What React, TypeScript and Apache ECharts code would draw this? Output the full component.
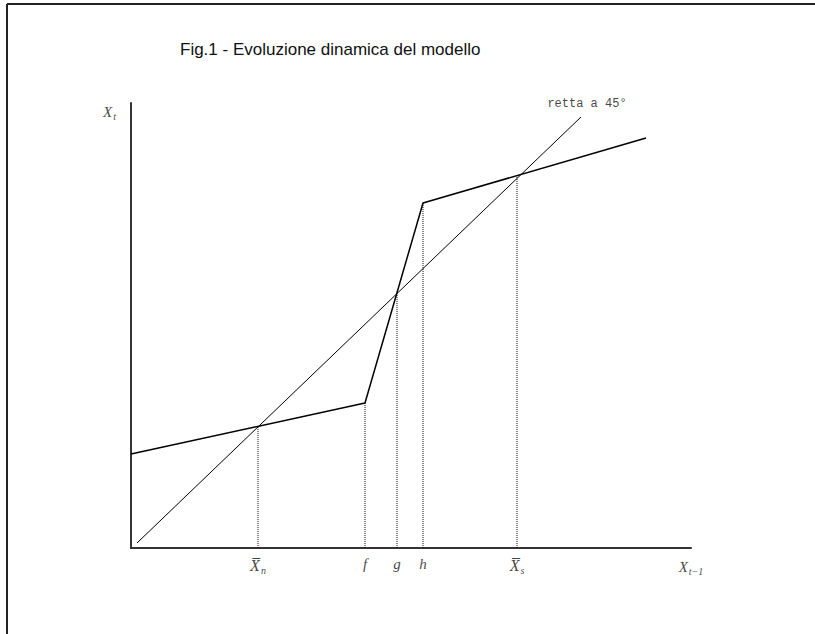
import React, { useEffect, useRef } from "react";
import * as echarts from "echarts";

const X_MAX = 560;
const Y_MAX = 445;
const line45: number[][] = [[6, 5], [450, 431]];
const curve: number[][] = [[0, 94], [234, 145], [292, 345], [515, 410]];
const dropX = [127, 234, 266, 292, 386];
const dropY = [122, 145, 255, 345, 371];
const tickText = ["{o|X\u0305}{s|n}", "{i|f}", "{i|g}", "{i|h}", "{o|X\u0305}{s|s}"];
const titleText = "Fig.1 - Evoluzione dinamica del modello";
const lineLabel = "retta a 45°";
const yName = "{i|X}{s|t}";
const xName = "{i|X}{s|t\u22121}";

export default function App() {
  const ref = useRef<HTMLDivElement>(null);
  useEffect(() => {
    const chart = echarts.init(ref.current!, null, { renderer: "svg" });
    const serif = "'Liberation Serif', 'Times New Roman', serif";
    const rich = {
      i: { fontFamily: serif, fontStyle: "italic", fontSize: 15, color: "#111" },
      o: { fontFamily: serif, fontStyle: "italic", fontSize: 16, color: "#111" },
      s: { fontFamily: serif, fontStyle: "italic", fontSize: 10, color: "#111", padding: [9, 0, 0, 1] },
    };
    const dropSeries = dropX.map((x, k) => ({
      type: "line",
      name: "drop" + k,
      data: [[x, 0], [x, dropY[k]]],
      symbol: "none",
      silent: true,
      lineStyle: { color: "#111", width: 1, type: [1, 1] },
      z: 1,
    }));
    const labelData: any[] = dropX.map((x, k) => ({
      value: [x, 0],
      label: { show: true, position: "bottom", distance: 8, formatter: tickText[k], rich },
    }));
    labelData.push({
      value: [X_MAX, 0],
      label: { show: true, position: "bottom", distance: 9, formatter: xName, rich },
    });
    labelData.push({
      value: [0, 436],
      label: { show: true, position: "left", distance: 15, formatter: yName, rich },
    });
    labelData.push({
      value: [456, 444],
      label: {
        show: true,
        position: "inside",
        formatter: lineLabel,
        fontFamily: "'Liberation Mono', 'Courier New', monospace",
        fontSize: 12,
        color: "#111",
      },
    });
    chart.setOption({
      animation: false,
      backgroundColor: "#fff",
      title: {
        text: titleText,
        left: 175,
        top: 36,
        textStyle: {
          fontFamily: "'Liberation Sans', Arial, sans-serif",
          fontSize: 17,
          fontWeight: "normal",
          color: "#111",
        },
      },
      grid: { left: 131, top: 103, width: X_MAX, height: Y_MAX },
      xAxis: {
        type: "value",
        min: 0,
        max: X_MAX,
        axisLine: { show: true, lineStyle: { color: "#333", width: 2 } },
        axisTick: { show: false },
        axisLabel: { show: false },
        splitLine: { show: false },
      },
      yAxis: {
        type: "value",
        min: 0,
        max: Y_MAX,
        axisLine: { show: true, lineStyle: { color: "#333", width: 2 } },
        axisTick: { show: false },
        axisLabel: { show: false },
        splitLine: { show: false },
      },
      graphic: [
        { type: "line", shape: { x1: 7, y1: 4, x2: 815, y2: 4 }, style: { stroke: "#222", lineWidth: 2 } },
        { type: "line", shape: { x1: 7, y1: 4, x2: 7, y2: 634 }, style: { stroke: "#222", lineWidth: 2 } },
      ],
      series: [
        {
          type: "line",
          name: "retta a 45°",
          data: line45,
          symbol: "none",
          silent: true,
          lineStyle: { color: "#000", width: 1 },
          z: 3,
        },
        {
          type: "line",
          name: "curve",
          data: curve,
          symbol: "none",
          silent: true,
          lineStyle: { color: "#000", width: 1.5 },
          z: 4,
        },
        ...dropSeries,
        {
          type: "scatter",
          name: "labels",
          data: labelData,
          symbolSize: 0,
          silent: true,
          clip: false,
          z: 5,
        },
      ],
    });
    return () => chart.dispose();
  }, []);
  return (
    <div
      ref={ref}
      style={{ position: "fixed", left: 0, top: 0, width: 815, height: 634, background: "#fff" }}
    />
  );
}
